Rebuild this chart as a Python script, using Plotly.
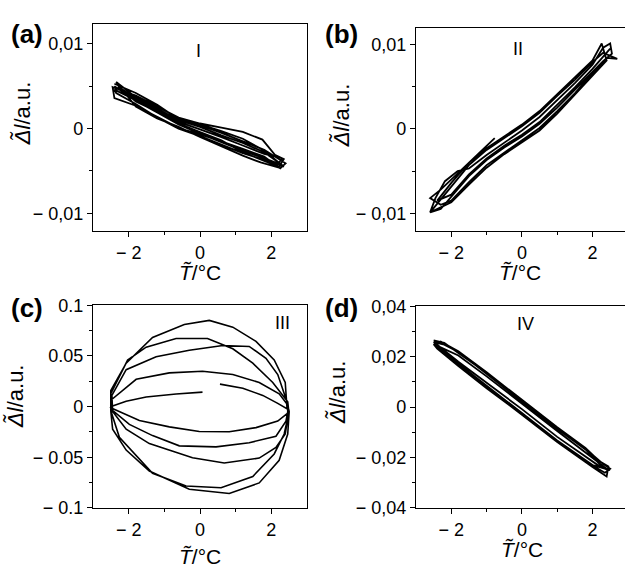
import plotly.graph_objects as go

# ---------------- data ----------------
# Panel (a)  regime I
a_T = [-2.40, -1.80, -1.20, -0.60, 0.00, 0.60, 1.20, 1.80, 2.30,
       1.80, 1.20, 0.60, 0.00, -0.60, -1.20, -1.80, -2.35,
       -1.80, -1.20, -0.60, 0.00, 0.60, 1.20, 1.70, 2.20,
       2.35, 2.10, 1.75, 1.20, 0.60, 0.00, -0.60, -1.20, -1.80, -2.45,
       -2.40, -1.80, -1.20, -0.60, 0.00, 0.60, 1.20, 1.80, 2.25,
       2.40, 1.80, 1.20, 0.60, 0.00, -0.60, -1.20, -1.80, -2.30,
       -1.80, -1.20, -0.60, 0.00, 0.60, 1.20, 1.80, 2.15,
       2.30, 1.80, 1.20, 0.60, 0.00, -0.60, -1.20, -1.80, -2.40,
       -2.35, -1.80, -1.20, -0.60, 0.00, 0.60, 1.20, 1.80, 2.35,
       1.80, 1.20, 0.60, 0.00, -0.60, -1.20, -1.80, -2.40]
a_dl = [0.0050, 0.0033, 0.0019, 0.0005, -0.0006, -0.0016, -0.0026, -0.0035, -0.0043,
        -0.0028, -0.0017, -0.0008, 0.0002, 0.0010, 0.0024, 0.0037, 0.0055,
        0.0026, 0.0012, 0.0002, -0.0010, -0.0021, -0.0032, -0.0040, -0.0046,
        -0.0036, -0.0031, -0.0013, -0.0004, 0.0001, 0.0006, 0.0013, 0.0026, 0.0039, 0.0049,
        0.0036, 0.0027, 0.0014, 0.0001, -0.0007, -0.0015, -0.0024, -0.0033, -0.0047,
        -0.0041, -0.0025, -0.0015, -0.0005, 0.0004, 0.0009, 0.0022, 0.0035, 0.0050,
        0.0032, 0.0020, 0.0006, -0.0004, -0.0014, -0.0028, -0.0038, -0.0044,
        -0.0035, -0.0030, -0.0020, -0.0010, -0.0001, 0.0008, 0.0021, 0.0034, 0.0046,
        0.0042, 0.0029, 0.0013, 0.0000, -0.0009, -0.0019, -0.0029, -0.0037, -0.0045,
        -0.0026, -0.0012, -0.0003, 0.0005, 0.0011, 0.0028, 0.0042, 0.0053]

# Panel (b)  regime II
b_T = [-0.77, -1.10, -1.50, -2.00, -2.30, -2.60,
       -2.30, -2.00, -1.50, -1.00, -0.50, 0.00, 0.50, 1.00, 1.50, 2.00, 2.40, 2.70,
       2.30, 2.00, 1.50, 1.00, 0.50, 0.00, -0.50, -1.00, -1.50, -2.00, -2.60,
       -2.30, -2.00, -1.50, -1.00, -0.50, 0.00, 0.50, 1.00, 1.50, 2.00, 2.30, 2.55,
       2.50, 2.30, 2.00, 1.50, 1.00, 0.50, 0.00, -0.50, -1.00, -1.50, -1.82, -2.18, -2.45,
       -2.60, -2.30, -2.00, -1.50, -1.00, -0.50, 0.00, 0.50, 1.00, 1.50, 2.00, 2.40,
       2.26, 2.00, 1.50, 1.00, 0.50, 0.00, -0.50, -1.00, -1.50, -2.00, -2.40,
       -2.00, -1.50, -1.00, -0.50, 0.00, 0.50, 1.00, 1.50, 2.00, 2.50]
b_dl = [-0.0011, -0.0024, -0.0040, -0.0060, -0.0072, -0.0082,
        -0.0090, -0.0085, -0.0063, -0.0043, -0.0028, -0.0014, 0.0001, 0.0021, 0.0042, 0.0066, 0.0084, 0.0083,
        0.0090, 0.0079, 0.0058, 0.0039, 0.0019, 0.0003, -0.0011, -0.0025, -0.0043, -0.0068, -0.0099,
        -0.0095, -0.0080, -0.0056, -0.0037, -0.0022, -0.0009, 0.0006, 0.0025, 0.0046, 0.0067, 0.0080, 0.0089,
        0.0101, 0.0096, 0.0076, 0.0054, 0.0034, 0.0014, -0.0002, -0.0016, -0.0031, -0.0047, -0.0050, -0.0062, -0.0082,
        -0.0099, -0.0093, -0.0087, -0.0066, -0.0046, -0.0030, -0.0016, -0.0002, 0.0018, 0.0040, 0.0063, 0.0081,
        0.0101, 0.0081, 0.0061, 0.0041, 0.0021, 0.0005, -0.0009, -0.0023, -0.0040, -0.0064, -0.0085,
        -0.0078, -0.0054, -0.0035, -0.0020, -0.0007, 0.0008, 0.0028, 0.0049, 0.0071, 0.0095]

# Panel (c)  regime III
c_T = [0.07, -0.67, -1.51, -2.07, -2.43, -2.50,
       -2.47, -1.70, -0.86, -0.02, 0.82, 1.57, 2.18, 2.46,
       2.46, 2.22, 1.66, 0.92, 0.07, -0.86, -1.79, -2.50,
       -2.47, -1.98, -1.33, -0.58, 0.45, 1.38, 2.13, 2.41, 2.48,
       2.41, 2.18, 1.85, 1.38, 0.64, -0.30, -1.23, -2.07, -2.47,
       -2.45, -2.07, -1.42, -0.21, 0.68, 1.66, 2.13, 2.39, 2.49,
       2.46, 2.04, 1.48, 0.92, 0.21, -0.67, -1.51, -2.03, -2.50,
       -2.48, -2.26, -1.33, -0.39, 0.59, 1.48, 2.08, 2.36, 2.49,
       2.44, 2.39, 2.08, 1.57, 0.92, 0.26, -0.44, -1.33, -2.07, -2.50,
       -2.50, -2.45, -2.07, -1.42, -0.30, 0.82, 1.66, 2.22, 2.46, 2.50,
       2.49, 2.18, 1.76, 1.20, 0.56]
c_dl = [0.0143, 0.0124, 0.0095, 0.0054, 0.0009, -0.0010,
        -0.0016, -0.0137, -0.0200, -0.0245, -0.0248, -0.0207, -0.0143, -0.0064,
        0.0016, 0.0127, 0.0238, 0.0317, 0.0349, 0.0333, 0.0270, 0.0063,
        -0.0032, -0.0175, -0.0286, -0.0387, -0.0397, -0.0356, -0.0292, -0.0143, -0.0016,
        0.0079, 0.0317, 0.0476, 0.0594, 0.0603, 0.0556, 0.0492, 0.0365, 0.0111,
        -0.0048, -0.0222, -0.0365, -0.0505, -0.0556, -0.0508, -0.0403, -0.0270, -0.0048,
        0.0048, 0.0238, 0.0429, 0.0571, 0.0673, 0.0673, 0.0587, 0.0460, 0.0127,
        -0.0064, -0.0302, -0.0657, -0.0784, -0.0800, -0.0689, -0.0467, -0.0270, -0.0064,
        -0.0016, 0.0238, 0.0460, 0.0644, 0.0784, 0.0851, 0.0810, 0.0683, 0.0429, 0.0159,
        -0.0048, -0.0222, -0.0429, -0.0635, -0.0816, -0.0857, -0.0753, -0.0530, -0.0270, -0.0048,
        -0.0032, 0.0032, 0.0111, 0.0181, 0.0222]

# Panel (d)  regime IV
d_T = [-2.50, -2.20, -1.80, -1.00, 0.00, 1.00, 1.80, 2.30, 2.50,
       2.35, 2.00, 1.00, 0.00, -1.00, -1.80, -2.20, -2.45,
       -2.30, -1.80, -1.00, 0.00, 1.00, 1.80, 2.20, 2.45,
       2.40, 2.00, 1.00, 0.00, -1.00, -1.80, -2.40,
       -2.50, -1.80, -1.00, 0.00, 1.00, 1.80, 2.45,
       2.20, 1.00, 0.00, -1.00, -1.80, -2.50,
       -2.20, -1.80, -1.00, 0.00, 1.00, 1.80, 2.30,
       2.50, 2.00, 1.00, 0.00, -1.00, -1.80, -2.45]
d_dl = [0.0265, 0.0255, 0.0215, 0.0135, 0.0025, -0.0083, -0.0165, -0.0225, -0.0245,
        -0.0260, -0.0232, -0.0135, -0.0028, 0.0078, 0.0168, 0.0215, 0.0245,
        0.0260, 0.0222, 0.0138, 0.0028, -0.0080, -0.0162, -0.0215, -0.0235,
        -0.0275, -0.0238, -0.0138, -0.0030, 0.0075, 0.0163, 0.0232,
        0.0250, 0.0205, 0.0122, 0.0012, -0.0095, -0.0180, -0.0250,
        -0.0235, -0.0118, -0.0008, 0.0098, 0.0180, 0.0258,
        0.0248, 0.0219, 0.0132, 0.0022, -0.0086, -0.0168, -0.0240,
        -0.0250, -0.0230, -0.0132, -0.0024, 0.0083, 0.0172, 0.0255]

# ticks
x_tickvals = [-2, 0, 2]
x_ticktext = ["\u2212 2", "0", "2"]
x_minor = [-1, 1]
ab_tickvals = [-0.01, 0, 0.01]
ab_ticktext = ["\u2212 0,01", "0", "0,01"]
ab_minor = [-0.005, 0.005]
c_tickvals = [-0.1, -0.05, 0, 0.05, 0.1]
c_ticktext = ["\u2212 0.1", "\u2212 0.05", "0", "0.05", "0.1"]
c_minor = [-0.075, -0.025, 0.025, 0.075]
d_tickvals = [-0.04, -0.02, 0, 0.02, 0.04]
d_ticktext = ["\u2212 0,04", "\u2212 0,02", "0", "0,02", "0,04"]
d_minor = [-0.03, -0.01, 0.01, 0.03]

W, H = 625, 572
FONT = "Liberation Sans, Arial, Helvetica, sans-serif"


def px(x):
    return x / W


def py(y):
    return 1 - y / H


def axis(domain, rng, tv, tt, mv, mirror, anchor):
    return dict(
        domain=domain, range=rng, anchor=anchor,
        tickmode="array", tickvals=tv, ticktext=tt,
        ticks="outside", ticklen=5, tickwidth=1.2, tickcolor="black",
        showline=True, linecolor="black", linewidth=1.3, mirror=mirror,
        showgrid=False, zeroline=False, fixedrange=True,
        tickfont=dict(family=FONT, size=18, color="black"),
        minor=dict(tickmode="array", tickvals=mv, ticks="outside", ticklen=3,
                   tickwidth=1.2, tickcolor="black", showgrid=False),
    )


fig = go.Figure()
line = dict(color="black", width=1.8)
fig.add_trace(go.Scatter(x=a_T, y=a_dl, mode="lines", line=line, xaxis="x", yaxis="y", showlegend=False))
fig.add_trace(go.Scatter(x=b_T, y=b_dl, mode="lines", line=line, xaxis="x2", yaxis="y2", showlegend=False))
fig.add_trace(go.Scatter(x=c_T, y=c_dl, mode="lines", line=dict(color="black", width=1.6),
                         xaxis="x3", yaxis="y3", showlegend=False))
fig.add_trace(go.Scatter(x=d_T, y=d_dl, mode="lines", line=line, xaxis="x4", yaxis="y4", showlegend=False))

left_dom = [px(93), px(307)]
right_dom = [px(416), 1.0]
top_dom_a = [py(229), py(15)]
top_dom_b = [py(229), py(19)]
bot_dom_c = [py(516), py(306)]
bot_dom_d = [py(516), py(307)]

fig.update_layout(
    width=W, height=H,
    margin=dict(l=0, r=0, t=0, b=0),
    paper_bgcolor="white", plot_bgcolor="white",
    xaxis=axis(left_dom, [-3, 3], x_tickvals, x_ticktext, x_minor, True, "y"),
    yaxis=axis(top_dom_a, [-0.0121, 0.0123], ab_tickvals, ab_ticktext, ab_minor, True, "x"),
    xaxis2=axis(right_dom, [-3, 2.92], x_tickvals, x_ticktext, x_minor, True, "y2"),
    yaxis2=axis(top_dom_b, [-0.0121, 0.0119], ab_tickvals, ab_ticktext, ab_minor, False, "x2"),
    xaxis3=axis(left_dom, [-3, 3], x_tickvals, x_ticktext, x_minor, True, "y3"),
    yaxis3=axis(bot_dom_c, [-0.1, 0.1], c_tickvals, c_ticktext, c_minor, True, "x3"),
    xaxis4=axis(right_dom, [-3, 2.92], x_tickvals, x_ticktext, x_minor, True, "y4"),
    yaxis4=axis(bot_dom_d, [-0.04, 0.04], d_tickvals, d_ticktext, d_minor, False, "x4"),
)

ann = []


def text(x, y, s, size, bold=False, angle=0):
    ann.append(dict(x=px(x), y=py(y), xref="paper", yref="paper", text=("<b>%s</b>" % s) if bold else s,
                    showarrow=False, xanchor="center", yanchor="middle", textangle=angle,
                    font=dict(family=FONT, size=size, color="black")))


# panel labels
text(27, 25, "(a)", 26, bold=True)
text(341, 25, "(b)", 26, bold=True)
text(27, 309, "(c)", 26, bold=True)
text(341, 309, "(d)", 26, bold=True)
# regime numerals
text(198, 43, "I", 18)
text(518, 40, "II", 18)
text(282, 324, "III", 18)
text(525, 325, "IV", 18)
# axis titles
ytitle = "<i>\u0394\u0303l</i>/a.u."
xtitle = "<i>T\u0303</i>/\u00b0C"
text(22, 108, ytitle, 22, angle=-90)
text(341, 110, ytitle, 22, angle=-90)
text(16, 401, ytitle, 22, angle=-90)
text(337, 397, ytitle, 22, angle=-90)
text(200, 272, xtitle, 21)
text(520, 272, xtitle, 21)
text(200, 566, xtitle, 21)
text(522, 559, xtitle, 21)

fig.update_layout(annotations=ann)
fig.write_html("out.html")
